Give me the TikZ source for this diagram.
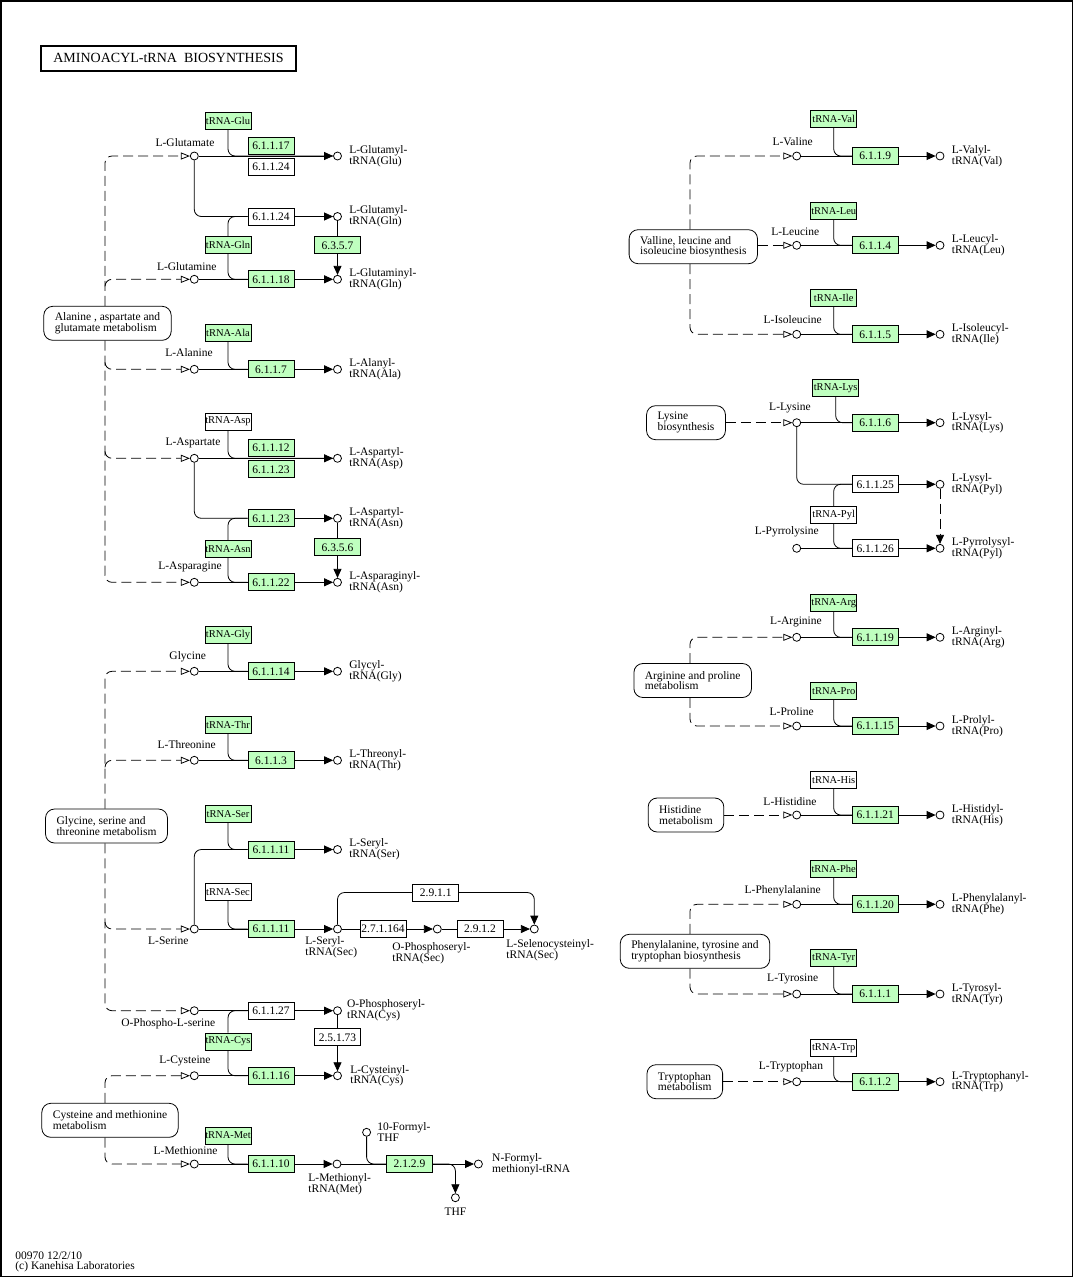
\documentclass[tikz,border=0pt]{standalone}
\usepackage{fontspec}
\setmainfont{Liberation Serif}
\usetikzlibrary{positioning,arrows.meta}
\definecolor{keggreen}{HTML}{BFFFBF}
\newcommand\kf{\fontsize{11.5}{10.7}\selectfont}
\newcommand\kfs{\fontsize{10.5}{10}\selectfont}
\newcommand\ktitle{\fontsize{14}{16}\selectfont}
\tikzset{cpd/.style={draw,circle,fill=white,inner sep=0pt,minimum size=8pt},
ec/.style={draw,fill=keggreen,minimum width=46pt,minimum height=17pt,inner sep=0pt},
ecw/.style={ec,fill=white},
trna/.style={ec,font=\kfs},
trnaw/.style={trna,fill=white},
pmap/.style={draw,rounded corners=9pt,align=left,inner xsep=11pt,minimum height=34pt},
cname/.style={inner sep=0pt,align=left},
rxn/.style={-{Triangle[length=9pt,width=8pt]}},
inflow/.style={dashed,dash pattern=on 10pt off 5pt,rounded corners=7pt,-{Triangle[open,length=9pt,width=7pt]}},
curvy/.style={rounded corners=7pt}}

\begin{document}
\begin{tikzpicture}[x=1pt,y=-1pt,line width=0.8pt,font=\kf]
\useasboundingbox (0,0) rectangle (1074,1278);
\draw[line width=1.5pt] (0.75,0.75) rectangle (1072.5,1276.5);
\node[draw,line width=2pt,minimum width=255pt,minimum height=25pt,font=\ktitle] (title) at (168.5,58) {AMINOACYL-tRNA\ \ BIOSYNTHESIS};

\node[trna] (glutrna) at (228,121) {tRNA-Glu};
\node[cpd] (glu) at (194.3,156) {};
\node (gluL) at (185,143) {L-Glutamate};
\node[ec] (e17) at (271,145.5) {6.1.1.17};
\node[ecw] (e24a) at (271,167) {6.1.1.24};
\node[cpd] (gluT) at (337.5,156) {};
\node[cname,right=7pt of gluT] (gluTL) {L-Glutamyl-\\tRNA(Glu)};
\node[ecw] (e24b) at (271,216.5) {6.1.1.24};
\node[cpd] (glnA) at (337.5,216.5) {};
\node[cname,right=7pt of glnA] (glnAL) {L-Glutamyl-\\tRNA(Gln)};
\node[ec] (e357) at (337.5,245.3) {6.3.5.7};
\node[trna] (glntrna) at (228,245.3) {tRNA-Gln};
\node[cpd] (gln) at (194.3,279.3) {};
\node (glnL) at (186.7,267) {L-Glutamine};
\node[ec] (e18) at (271,279.3) {6.1.1.18};
\node[cpd] (glnT) at (337.5,279.3) {};
\node[cname,right=7pt of glnT] (glnTL) {L-Glutaminyl-\\tRNA(Gln)};

\node[pmap] (map1) at (107.5,323.3) {Alanine , aspartate and\\glutamate metabolism};
\coordinate (glnJ) at (105,286.3);
\coordinate (alaJ) at (105,362.3);
\coordinate (aspJ) at (105,451.3);

\node[trna] (alatrna) at (228,333) {tRNA-Ala};
\node[cpd] (ala) at (194.3,369.3) {};
\node (alaL) at (189,352.7) {L-Alanine};
\node[ec] (e7) at (271,369.3) {6.1.1.7};
\node[cpd] (alaT) at (337.5,369.3) {};
\node[cname,right=7pt of alaT] (alaTL) {L-Alanyl-\\tRNA(Ala)};

\node[trnaw] (asptrna) at (228,421.5) {tRNA-Asp};
\node[cpd] (asp) at (194.3,458.3) {};
\node (aspL) at (193,443) {L-Aspartate};
\node[ec] (e12) at (271,447.8) {6.1.1.12};
\node[ec] (e23a) at (271,469.3) {6.1.1.23};
\node[cpd] (aspT) at (337.5,458.3) {};
\node[cname,right=7pt of aspT] (aspTL) {L-Aspartyl-\\tRNA(Asp)};
\node[ec] (e23b) at (271,518.3) {6.1.1.23};
\node[cpd] (asnA) at (337.5,518.3) {};
\node[cname,right=7pt of asnA] (asnAL) {L-Aspartyl-\\tRNA(Asn)};
\node[ec] (e356) at (337.5,547.3) {6.3.5.6};
\node[trna] (asntrna) at (228,549) {tRNA-Asn};
\node[cpd] (asn) at (194.3,582.3) {};
\node (asnL) at (190,567) {L-Asparagine};
\node[ec] (e22) at (271,582.3) {6.1.1.22};
\node[cpd] (asnT) at (337.5,582.3) {};
\node[cname,right=7pt of asnT] (asnTL) {L-Asparaginyl-\\tRNA(Asn)};

\node[trna] (glytrna) at (228,634.7) {tRNA-Gly};
\node[cpd] (gly) at (194.3,671.3) {};
\node (glyL) at (187.7,656.7) {Glycine};
\node[ec] (e14) at (271,671.3) {6.1.1.14};
\node[cpd] (glyT) at (337.5,671.3) {};
\node[cname,right=7pt of glyT] (glyTL) {Glycyl-\\tRNA(Gly)};

\node[trna] (thrtrna) at (228,725) {tRNA-Thr};
\node[cpd] (thr) at (194.3,760.3) {};
\node (thrL) at (186.7,745) {L-Threonine};
\node[ec] (e3) at (271,760.3) {6.1.1.3};
\node[cpd] (thrT) at (337.5,760.3) {};
\node[cname,right=7pt of thrT] (thrTL) {L-Threonyl-\\tRNA(Thr)};

\node[pmap] (map2) at (106.5,826) {Glycine, serine and\\threonine metabolism};
\coordinate (thrJ) at (105,767.3);
\coordinate (serJ) at (105,922);

\node[trna] (sertrna) at (228,814.3) {tRNA-Ser};
\node[ec] (e11a) at (271,849.5) {6.1.1.11};
\node[cpd] (serT) at (337.5,849.5) {};
\node[cname,right=7pt of serT] (serTL) {L-Seryl-\\tRNA(Ser)};
\node[trnaw] (sectrna) at (228,892) {tRNA-Sec};
\node[cpd] (ser) at (194.3,929) {};
\node (serL) at (168.3,941) {L-Serine};
\node[ec] (e11b) at (271,929) {6.1.1.11};
\node[cpd] (secA) at (337.5,929) {};
\node[cname,anchor=west] (secAL) at (305,947) {L-Seryl-\\tRNA(Sec)};
\node[ecw] (e2164) at (383,929) {2.7.1.164};
\node[cpd] (secB) at (437.3,929) {};
\node[cname,anchor=west] (secBL) at (392,953.3) {O-Phosphoseryl-\\tRNA(Sec)};
\node[ecw] (e2912) at (480,929) {2.9.1.2};
\node[cpd] (secC) at (534.3,929) {};
\node[cname,anchor=west] (secCL) at (506,950.5) {L-Selenocysteinyl-\\tRNA(Sec)};
\node[ecw] (e2911) at (435.7,892.5) {2.9.1.1};

\node[cpd] (pser) at (194.3,1010.7) {};
\node (pserL) at (168.3,1024) {O-Phospho-L-serine};
\node[ecw] (e27) at (271,1010.7) {6.1.1.27};
\node[cpd] (cysA) at (337.5,1010.7) {};
\node[cname,anchor=west] (cysAL) at (346.7,1010) {O-Phosphoseryl-\\tRNA(Cys)};
\node[trna] (cystrna) at (228,1041.5) {tRNA-Cys};
\node[ecw] (e2573) at (337.5,1037.3) {2.5.1.73};
\node[cpd] (cys) at (194.3,1075.7) {};
\node (cysL) at (185,1061) {L-Cysteine};
\node[ec] (e16) at (271,1075.7) {6.1.1.16};
\node[cpd] (cysT) at (337.5,1075.7) {};
\node[cname,right=8pt of cysT] (cysTL) {L-Cysteinyl-\\tRNA(Cys)};

\node[pmap] (map3) at (110,1120.3) {Cysteine and methionine\\metabolism};

\node[trna] (mettrna) at (228,1135.5) {tRNA-Met};
\node[cpd] (met) at (194.3,1164) {};
\node (metL) at (185.6,1150.7) {L-Methionine};
\node[ec] (e10) at (271,1164) {6.1.1.10};
\node[cpd] (metA) at (337,1164) {};
\node[cname,anchor=west] (metAL) at (308,1184.5) {L-Methionyl-\\tRNA(Met)};
\node[cpd] (fthf) at (366.6,1132.3) {};
\node[cname,anchor=west] (fthfL) at (377,1131.7) {10-Formyl-\\THF};
\node[ec] (e2129) at (409.5,1164) {2.1.2.9};
\node[cpd] (fmet) at (478.4,1164) {};
\node[cname,anchor=west] (fmetL) at (491.8,1164) {N-Formyl-\\methionyl-tRNA};
\node[cpd] (thf) at (455.4,1197.7) {};
\node (thfL) at (455.4,1211.7) {THF};

\node[trna] (valtrna) at (833.7,119) {tRNA-Val};
\node[cpd] (val) at (796.7,156) {};
\node (valL) at (792.7,141.3) {L-Valine};
\node[ec] (e9) at (875.3,156) {6.1.1.9};
\node[cpd] (valT) at (940,156) {};
\node[cname,right=7pt of valT] (valTL) {L-Valyl-\\tRNA(Val)};
\node[pmap] (map4) at (693.3,246.7) {Valline, leucine and\\isoleucine biosynthesis};
\node[trna] (leutrna) at (833.7,210.8) {tRNA-Leu};
\node[cpd] (leu) at (796.7,245.3) {};
\node (leuL) at (795.3,232) {L-Leucine};
\node[ec] (e4) at (875.3,245.3) {6.1.1.4};
\node[cpd] (leuT) at (940,245.3) {};
\node[cname,right=7pt of leuT] (leuTL) {L-Leucyl-\\tRNA(Leu)};
\node[trna] (iletrna) at (833.7,298) {tRNA-Ile};
\node[cpd] (ile) at (796.7,334.3) {};
\node (ileL) at (792.7,320) {L-Isoleucine};
\node[ec] (e5) at (875.3,334.3) {6.1.1.5};
\node[cpd] (ileT) at (940,334.3) {};
\node[cname,right=7pt of ileT] (ileTL) {L-Isoleucyl-\\tRNA(Ile)};

\node[pmap] (map5) at (686,422.7) {Lysine\\biosynthesis};
\node[trna] (lystrna) at (835.7,387.7) {tRNA-Lys};
\node[cpd] (lys) at (796.7,422.7) {};
\node (lysL) at (790,408.3) {L-Lysine};
\node[ec] (e6) at (875.3,422.7) {6.1.1.6};
\node[cpd] (lysT) at (940,422.7) {};
\node[cname,right=7pt of lysT] (lysTL) {L-Lysyl-\\tRNA(Lys)};
\node[ecw] (e25) at (875.3,484.3) {6.1.1.25};
\node[cpd] (pylA) at (940,484.3) {};
\node[cname,right=7pt of pylA] (pylAL) {L-Lysyl-\\tRNA(Pyl)};
\node[trnaw] (pyltrna) at (833.7,515) {tRNA-Pyl};
\node[cpd] (pyl) at (796.7,548.3) {};
\node (pylL) at (786.7,531.7) {L-Pyrrolysine};
\node[ecw] (e26) at (875.3,548.3) {6.1.1.26};
\node[cpd] (pylT) at (940,548.3) {};
\node[cname,right=7pt of pylT] (pylTL) {L-Pyrrolysyl-\\tRNA(Pyl)};

\node[trna] (argtrna) at (833.7,603.3) {tRNA-Arg};
\node[cpd] (arg) at (796.7,637.3) {};
\node (argL) at (796,621.7) {L-Arginine};
\node[ec] (e19) at (875.3,637.3) {6.1.1.19};
\node[cpd] (argT) at (940,637.3) {};
\node[cname,right=7pt of argT] (argTL) {L-Arginyl-\\tRNA(Arg)};
\node[pmap] (map6) at (692.7,680.5) {Arginine and proline\\metabolism};
\node[trna] (protrna) at (833.7,691) {tRNA-Pro};
\node[cpd] (pro) at (796.7,726) {};
\node (proL) at (791.7,712) {L-Proline};
\node[ec] (e15) at (875.3,726) {6.1.1.15};
\node[cpd] (proT) at (940,726) {};
\node[cname,right=7pt of proT] (proTL) {L-Prolyl-\\tRNA(Pro)};

\node[pmap] (map7) at (686,815) {Histidine\\metabolism};
\node[trnaw] (histrna) at (833.7,779.7) {tRNA-His};
\node[cpd] (his) at (796.7,815) {};
\node (hisL) at (790,801.7) {L-Histidine};
\node[ec] (e21) at (875.3,815) {6.1.1.21};
\node[cpd] (hisT) at (940,815) {};
\node[cname,right=7pt of hisT] (hisTL) {L-Histidyl-\\tRNA(His)};

\node[trna] (phetrna) at (833.7,869) {tRNA-Phe};
\node[cpd] (phe) at (796.7,904.3) {};
\node (pheL) at (782.7,890.7) {L-Phenylalanine};
\node[ec] (e20) at (875.3,904.3) {6.1.1.20};
\node[cpd] (pheT) at (940,904.3) {};
\node[cname,right=7pt of pheT] (pheTL) {L-Phenylalanyl-\\tRNA(Phe)};
\node[pmap] (map8) at (695,951.3) {Phenylalanine, tyrosine and\\tryptophan biosynthesis};
\node[trna] (tyrtrna) at (833.7,958) {tRNA-Tyr};
\node[cpd] (tyr) at (796.7,994) {};
\node (tyrL) at (792.7,979) {L-Tyrosine};
\node[ec] (e1) at (875.3,994) {6.1.1.1};
\node[cpd] (tyrT) at (940,994) {};
\node[cname,right=7pt of tyrT] (tyrTL) {L-Tyrosyl-\\tRNA(Tyr)};

\node[pmap] (map9) at (684.8,1081.7) {Tryptophan\\metabolism};
\node[trnaw] (trptrna) at (833.7,1047.7) {tRNA-Trp};
\node[cpd] (trp) at (796.7,1081.7) {};
\node (trpL) at (791,1066.7) {L-Tryptophan};
\node[ec] (e2) at (875.3,1081.7) {6.1.1.2};
\node[cpd] (trpT) at (940,1081.7) {};
\node[cname,right=7pt of trpT] (trpTL) {L-Tryptophanyl-\\tRNA(Trp)};

\node[cname,anchor=west] (foot) at (15,1262) {00970 12/2/10\\(c) Kanehisa Laboratories};

\draw[rxn] (glu) -- (gluT);
\draw[curvy] (glutrna) |- (gluT);
\draw[curvy] (glu) |- (e24b);
\draw[rxn] (e24b) -- (glnA);
\draw (glnA) -- (e357);
\draw[rxn] (e357) -- (glnT);
\draw[curvy] (glntrna) |- (e24b.west);
\draw[curvy] (glntrna) |- (e18.west);
\draw (gln) -- (e18);
\draw[rxn] (e18) -- (glnT);
\draw (ala) -- (e7);
\draw[rxn] (e7) -- (alaT);
\draw[curvy] (alatrna) |- (e7.west);
\draw[rxn] (asp) -- (aspT);
\draw[curvy] (asptrna) |- (aspT);
\draw[curvy] (asp) |- (e23b);
\draw[rxn] (e23b) -- (asnA);
\draw (asnA) -- (e356);
\draw[rxn] (e356) -- (asnT);
\draw[curvy] (asntrna) |- (e23b.west);
\draw[curvy] (asntrna) |- (e22.west);
\draw (asn) -- (e22);
\draw[rxn] (e22) -- (asnT);
\draw[inflow] ([xshift=-2.5pt]map1.north) |- (glu);
\draw[inflow] (glnJ) |- (gln);
\draw[inflow] (alaJ) |- (ala);
\draw[inflow] (aspJ) |- (asp);
\draw[inflow] ([xshift=-2.5pt]map1.south) |- (asn);

\draw (gly) -- (e14);
\draw[rxn] (e14) -- (glyT);
\draw[curvy] (glytrna) |- (e14.west);
\draw (thr) -- (e3);
\draw[rxn] (e3) -- (thrT);
\draw[curvy] (thrtrna) |- (e3.west);
\draw[curvy] (ser) |- (e11a);
\draw[rxn] (e11a) -- (serT);
\draw[curvy] (sertrna) |- (e11a.west);
\draw (ser) -- (e11b);
\draw[rxn] (e11b) -- (secA);
\draw[curvy] (sectrna) |- (e11b.west);
\draw (secA) -- (e2164);
\draw[rxn] (e2164) -- (secB);
\draw (secB) -- (e2912);
\draw[rxn] (e2912) -- (secC);
\draw[curvy] (secA) |- (e2911);
\draw[rxn,curvy] (e2911) -| (secC);
\draw (pser) -- (e27);
\draw[rxn] (e27) -- (cysA);
\draw[curvy] (cystrna) |- (e27.west);
\draw[curvy] (cystrna) |- (e16.west);
\draw (cys) -- (e16);
\draw[rxn] (e16) -- (cysT);
\draw (cysA) -- (e2573);
\draw[rxn] (e2573) -- (cysT);
\draw[inflow] ([xshift=-1.5pt]map2.north) |- (gly);
\draw[inflow] (thrJ) |- (thr);
\draw[inflow] (serJ) |- (ser);
\draw[inflow] ([xshift=-1.5pt]map2.south) |- (pser);

\draw (met) -- (e10);
\draw[rxn] (e10) -- (metA);
\draw[curvy] (mettrna) |- (e10.west);
\draw (metA) -- (e2129);
\draw[rxn] (e2129) -- (fmet);
\draw[curvy] (fthf) |- (e2129.west);
\draw[rxn,curvy] (e2129.east) -| (thf);
\draw[inflow] ([xshift=-5pt]map3.north) |- (cys);
\draw[inflow] ([xshift=-5pt]map3.south) |- (met);

\draw (val) -- (e9);
\draw[rxn] (e9) -- (valT);
\draw[curvy] (valtrna) |- (e9.west);
\draw (leu) -- (e4);
\draw[rxn] (e4) -- (leuT);
\draw[curvy] (leutrna) |- (e4.west);
\draw (ile) -- (e5);
\draw[rxn] (e5) -- (ileT);
\draw[curvy] (iletrna) |- (e5.west);
\draw[inflow] ([xshift=-3.3pt]map4.north) |- (val);
\draw[inflow] (map4.east |- leu) -- (leu);
\draw[inflow] ([xshift=-3.3pt]map4.south) |- (ile);

\draw (lys) -- (e6);
\draw[rxn] (e6) -- (lysT);
\draw[curvy] (lystrna) |- (e6.west);
\draw[curvy] (lys) |- (e25);
\draw[rxn] (e25) -- (pylA);
\draw[curvy] (pyltrna) |- (e25.west);
\draw[curvy] (pyltrna) |- (e26.west);
\draw (pyl) -- (e26);
\draw[rxn] (e26) -- (pylT);
\draw[rxn,dashed,dash pattern=on 10pt off 5pt] (pylA) -- (pylT);
\draw[inflow] (map5) -- (lys);

\draw (arg) -- (e19);
\draw[rxn] (e19) -- (argT);
\draw[curvy] (argtrna) |- (e19.west);
\draw (pro) -- (e15);
\draw[rxn] (e15) -- (proT);
\draw[curvy] (protrna) |- (e15.west);
\draw[inflow] ([xshift=-2.7pt]map6.north) |- (arg);
\draw[inflow] ([xshift=-2.7pt]map6.south) |- (pro);

\draw (his) -- (e21);
\draw[rxn] (e21) -- (hisT);
\draw[curvy] (histrna) |- (e21.west);
\draw[inflow] (map7) -- (his);

\draw (phe) -- (e20);
\draw[rxn] (e20) -- (pheT);
\draw[curvy] (phetrna) |- (e20.west);
\draw (tyr) -- (e1);
\draw[rxn] (e1) -- (tyrT);
\draw[curvy] (tyrtrna) |- (e1.west);
\draw[inflow] ([xshift=-5pt]map8.north) |- (phe);
\draw[inflow] ([xshift=-5pt]map8.south) |- (tyr);

\draw (trp) -- (e2);
\draw[rxn] (e2) -- (trpT);
\draw[curvy] (trptrna) |- (e2.west);
\draw[inflow] (map9) -- (trp);
\end{tikzpicture}
\end{document}
